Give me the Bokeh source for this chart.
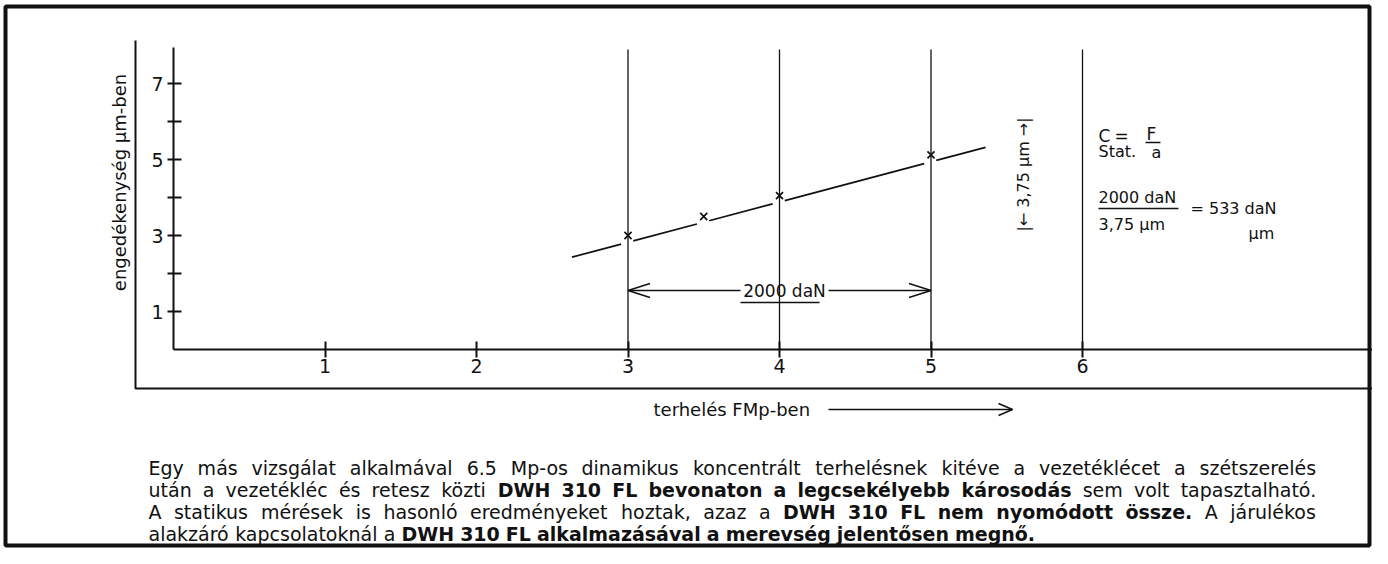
import math
from bokeh.plotting import figure
from bokeh.models import Range1d, FixedTicker
from bokeh.core.properties import value
from bokeh.embed import file_html
from bokeh.resources import INLINE

# ---------------- data ----------------
load_ticks = [1, 2, 3, 4, 5, 6]                 # terhelés (FMp)
defl_ticks = [1, 2, 3, 4, 5, 6, 7]              # engedékenység (µm)
defl_tick_text = ["1", "", "3", "", "5", "", "7"]
ref_loads = [3, 4, 5, 6]                        # vertical reference lines
meas_load = [3.0, 3.5, 4.0, 5.0]                # measured points (x marks)
meas_defl = [3.0, 3.5, 4.05, 5.12]
fit_load = [2.63, 5.36]                         # drawn straight line
fit_defl = [2.43, 5.32]
span_load = [3, 5]                              # 2000 daN span
x_title = "terhelés FMp-ben"
y_title = "engedékenység µm-ben"
span_text = "2000 daN"
gap_text = "|← 3,75 µm →|"

para_line1 = [("Egy más vizsgálat alkalmával 6.5 Mp-os dinamikus koncentrált terhelésnek kitéve a vezetéklécet a szétszerelés", False)]
para_line2 = [("után a vezetékléc és retesz közti", False),
              ("DWH 310 FL bevonaton a legcsekélyebb károsodás", True),
              ("sem volt tapasztalható.", False)]
para_line3 = [("A statikus mérések is hasonló eredményeket hoztak, azaz a", False),
              ("DWH 310 FL nem nyomódott össze.", True),
              ("A járulékos", False)]
para_line4 = [("alakzáró kapcsolatoknál a", False),
              ("DWH 310 FL alkalmazásával a merevség jelentősen megnő.", True)]

# ---------------- layout (canvas pixels) ----------------
W, H = 1372, 548
PX0, PY0 = 173.0, 349.0      # pixel of the origin
KX, KY = 151.5, 38.0         # pixels per unit


def dx(X):
    return (X - PX0) / KX


def dy(Y):
    return (PY0 - Y) / KY


FONT = "DejaVu Sans"
INK = "#111111"

p = figure(width=W, height=H,
           x_range=Range1d(dx(0), dx(W)),
           y_range=Range1d(dy(H), dy(0)),
           output_backend="svg", toolbar_location=None,
           min_border=0, outline_line_color=None,
           background_fill_color="white", border_fill_color="white")
p.xgrid.visible = False
p.ygrid.visible = False

Y_TOP = dy(47)

# axes at the origin
xa = p.xaxis[0]
xa.fixed_location = 0
xa.bounds = (0, dx(W))
xa.ticker = FixedTicker(ticks=load_ticks)
xa.major_tick_in = 8
xa.major_tick_out = 8
xa.minor_tick_line_color = None
xa.axis_line_width = 2
xa.axis_line_color = INK
xa.major_tick_line_width = 2
xa.major_tick_line_color = INK
xa.major_label_text_font = FONT
xa.major_label_text_font_size = "19px"
xa.major_label_text_color = INK
xa.major_label_standoff = 1

ya = p.yaxis[0]
ya.fixed_location = 0
ya.bounds = (0, Y_TOP)
ya.ticker = FixedTicker(ticks=defl_ticks)
ya.major_label_overrides = {t: s for t, s in zip(defl_ticks, defl_tick_text)}
ya.major_tick_in = 8
ya.major_tick_out = 6
ya.minor_tick_line_color = None
ya.axis_line_width = 2
ya.axis_line_color = INK
ya.major_tick_line_width = 2
ya.major_tick_line_color = INK
ya.major_label_text_font = FONT
ya.major_label_text_font_size = "19px"
ya.major_label_text_color = INK
ya.major_label_standoff = 4

# outer page frame and L-shaped box
p.quad(left=[dx(5)], right=[dx(W - 3)], top=[dy(6)], bottom=[dy(H - 3)],
       fill_color=None, line_color=INK, line_width=4)
p.line([dx(135), dx(135), dx(W)], [dy(40), dy(388), dy(388)],
       line_color=INK, line_width=2)

# vertical reference lines
p.segment(x0=ref_loads, y0=[0] * len(ref_loads), x1=ref_loads,
          y1=[dy(49)] * len(ref_loads), line_color=INK, line_width=1.3)

# fitted line (broken at each measured mark, as drawn) and measured points
slope = (fit_defl[1] - fit_defl[0]) / (fit_load[1] - fit_load[0])


def fit_at(x):
    return fit_defl[0] + slope * (x - fit_load[0])


cuts = [fit_load[0]]
for xm in meas_load:
    cuts += [xm - 0.045, xm + 0.035]
cuts.append(fit_load[1])
seg_x0 = cuts[0::2]
seg_x1 = cuts[1::2]
p.segment(x0=seg_x0, y0=[fit_at(v) for v in seg_x0], x1=seg_x1,
          y1=[fit_at(v) for v in seg_x1], line_color=INK, line_width=1.7)
p.scatter(meas_load, meas_defl, marker="x", size=10, line_color=INK, line_width=1.7)

# 2000 daN dimension arrow
ay = dy(290)
tc = 4 + 5 / KX
half = 44 / KX
p.segment(x0=[span_load[0], tc + half], y0=[ay, ay],
          x1=[tc - half, span_load[1]], y1=[ay, ay], line_color=INK, line_width=1.5)
hl, hh = 22 / KX, 7 / KY
p.multi_line(xs=[[span_load[0] + hl, span_load[0], span_load[0] + hl],
                 [span_load[1] - hl, span_load[1], span_load[1] - hl]],
             ys=[[ay + hh, ay, ay - hh], [ay + hh, ay, ay - hh]],
             line_color=INK, line_width=1.5)
p.text(x=[tc], y=[ay], text=[span_text], text_font=value(FONT), text_font_size="17px",
       text_align="center", text_baseline="middle", text_color=INK)
p.segment(x0=[dx(740)], y0=[dy(302)], x1=[dx(819)], y1=[dy(302)], line_color=INK, line_width=1.5)

# axis titles
p.text(x=[dx(119)], y=[dy(182)], text=[y_title], angle=math.pi / 2,
       text_font=value(FONT), text_font_size="18px", text_align="center",
       text_baseline="middle", text_color=INK)
p.text(x=[dx(653)], y=[dy(409)], text=[x_title],
       text_font=value(FONT), text_font_size="18px", text_align="left",
       text_baseline="middle", text_color=INK)
p.segment(x0=[dx(828)], y0=[dy(409)], x1=[dx(1012)], y1=[dy(409)], line_color=INK, line_width=1.5)
p.multi_line(xs=[[dx(998), dx(1012), dx(998)]], ys=[[dy(403), dy(409), dy(415)]],
             line_color=INK, line_width=1.5)

# vertical gap annotation
p.text(x=[dx(1023)], y=[dy(174)], text=[gap_text], angle=math.pi / 2,
       text_font=value(FONT), text_font_size="16px", text_align="center",
       text_baseline="middle", text_color=INK)


# formula block
def t(X, Y, s, align="left", size="16px"):
    p.text(x=[dx(X)], y=[dy(Y)], text=[s], text_font=value(FONT), text_font_size=size,
           text_align=align, text_baseline="middle", text_color=INK)


t(1098, 135, "C", size="17px")
t(1121, 135, "=", "center", size="17px")
t(1151, 133, "F", "center", size="17px")
p.segment(x0=[dx(1145)], y0=[dy(142)], x1=[dx(1160)], y1=[dy(142)], line_color=INK, line_width=1.5)
t(1098, 151, "Stat.")
t(1156, 152, "a", "center")
t(1098, 197, "2000 daN")
p.segment(x0=[dx(1098)], y0=[dy(208)], x1=[dx(1178)], y1=[dy(208)], line_color=INK, line_width=1.5)
t(1098, 224, "3,75 µm")
t(1190, 208, "= 533 daN")
t(1248, 233, "µm")

# ---------------- paragraph (word-placed, justified) ----------------
REG = {' ': 651, 'a': 1255, 'b': 1300, 'c': 1126, 'd': 1300, 'e': 1260, 'f': 721, 'g': 1300,
       'h': 1298, 'i': 569, 'j': 569, 'k': 1186, 'l': 569, 'm': 1995, 'n': 1298, 'o': 1253,
       'p': 1300, 'q': 1300, 'r': 842, 's': 1067, 't': 803, 'u': 1298, 'v': 1212, 'w': 1675,
       'x': 1212, 'y': 1212, 'z': 1075, 'A': 1401, 'D': 1577, 'E': 1294, 'F': 1178, 'H': 1540,
       'L': 1141, 'M': 1767, 'W': 2025, '.': 651, ',': 651, '-': 739}
BOLD = {' ': 713, 'a': 1382, 'b': 1466, 'c': 1208, 'd': 1466, 'e': 1389, 'f': 868, 'g': 1466,
        'h': 1458, 'i': 702, 'j': 702, 'k': 1364, 'l': 702, 'm': 2134, 'n': 1458, 'o': 1407,
        'p': 1466, 'q': 1466, 'r': 1010, 's': 1219, 't': 979, 'u': 1458, 'v': 1335, 'w': 1888,
        'x': 1321, 'y': 1335, 'z': 1198, 'A': 1590, 'D': 1696, 'E': 1400, 'F': 1405, 'H': 1715,
        'L': 1303, 'M': 2040, 'W': 2256, '.': 780, ',': 780, '-': 852}
for dgt in "0123456789":
    REG[dgt] = 1303
    BOLD[dgt] = 1425
ACC = str.maketrans("áéíóöőúüűÁÉÍÓÖŐÚÜŰ", "aeiooouuuAEIOOOUUU")
FS = 19


def width(s, bold):
    tab = BOLD if bold else REG
    return sum(tab.get(c, 1250) for c in s.translate(ACC)) / 2048 * FS


LEFT, RIGHT = 148, 1316
baselines = [467, 489, 511, 533]
lines = [para_line1, para_line2, para_line3, para_line4]
reg_x, reg_y, reg_t, b_x, b_y, b_t = [], [], [], [], [], []
for li, (runs, base) in enumerate(zip(lines, baselines)):
    words = [(w, b) for (s, b) in runs for w in s.split()]
    ws = [width(w, b) for w, b in words]
    if li < len(lines) - 1:
        gap = (RIGHT - LEFT - sum(ws)) / (len(words) - 1)
    else:
        gap = REG[' '] / 2048 * FS
    X = LEFT
    for (w, b), wd in zip(words, ws):
        if b:
            b_x.append(dx(X)); b_y.append(dy(base)); b_t.append(w)
        else:
            reg_x.append(dx(X)); reg_y.append(dy(base)); reg_t.append(w)
        X += wd + gap

p.text(x=reg_x, y=reg_y, text=reg_t, text_font=value(FONT), text_font_size=f"{FS}px",
       text_align="left", text_baseline="alphabetic", text_color=INK)
p.text(x=b_x, y=b_y, text=b_t, text_font=value(FONT), text_font_size=f"{FS}px",
       text_font_style="bold", text_align="left", text_baseline="alphabetic", text_color=INK)

open("out.html", "w").write(file_html(p, INLINE))
